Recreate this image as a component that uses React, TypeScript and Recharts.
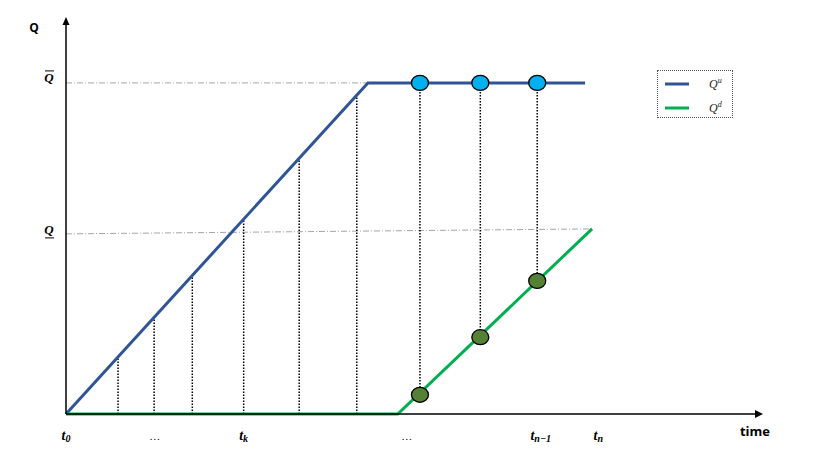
import {
  ComposedChart,
  Line,
  Scatter,
  XAxis,
  YAxis,
  ReferenceLine,
  ReferenceDot,
  Legend,
} from "recharts";

// Q^u: ramps up from t0, then stays at Q-bar
const upTimes = [0, 43.5, 74.8];
const upValues = [0, 100, 100];

// Q^d: flat at zero, then ramps up
const downTimes = [0, 47.8, 75.8];
const downValues = [0, 0, 55.9];

// dotted drops from the Q^u ramp to the time axis
const dropTimes = [7.5, 12.7, 18.2, 25.6, 33.6, 41.9];
const dropTops = [17.2, 29.2, 41.8, 58.9, 77.2, 96.3];

// markers: upstream (blue) and downstream (green)
const markTimes = [51.0, 59.7, 67.9];
const markUp = [100, 100, 100];
const markDown = [5.8, 23.2, 40.2];

// levels
const qMax = 100;
const qMinStart = 54.4;
const qMinEnd = 55.9;

// axis ticks
const tickTimes = [0, 12.8, 25.6, 49.1, 68.4, 76.7];
const tickBase = ["t", "…", "t", "…", "t", "t"];
const tickSub = ["0", "", "k", "", "n−1", "n"];
const yTicks = [qMax, 55];

const BLUE = "#2F5597";
const GREEN = "#00B050";
const GREY = "#A6A6A6";

const upData = upTimes.map((t, i) => ({ t, v: upValues[i] }));
const downData = downTimes.map((t, i) => ({ t, v: downValues[i] }));
const upMarks = markTimes.map((t, i) => ({ t, v: markUp[i] }));
const downMarks = markTimes.map((t, i) => ({ t, v: markDown[i] }));

const serif = "'Liberation Serif', 'DejaVu Serif', serif";
const sans = "'Open Sans', 'Liberation Sans', sans-serif";

const TimeTick = (props: any) => {
  const { x, y, payload } = props;
  const i = tickTimes.indexOf(payload.value);
  if (i < 0) return null;
  const base = tickBase[i];
  const sub = tickSub[i];
  if (!sub) {
    return (
      <text x={x} y={y + 18} textAnchor="middle" fontFamily={serif} fontSize={11} fill="#000">
        {base}
      </text>
    );
  }
  return (
    <text
      x={x}
      y={y + 18}
      textAnchor="middle"
      fontFamily={serif}
      fontStyle="italic"
      fontWeight="bold"
      fontSize={14}
      fill="#000"
    >
      <tspan>{base}</tspan>
      <tspan dy={2} fontSize={10}>
        {sub}
      </tspan>
    </text>
  );
};

const LevelTick = (props: any) => {
  const { x, y, payload } = props;
  const upper = payload.value === qMax;
  const cx = x - 9;
  const base = upper ? y - 1 : y + 2;
  const ruleY = upper ? base - 11 : base + 4;
  return (
    <g>
      <text
        x={cx}
        y={base}
        textAnchor="middle"
        fontFamily={serif}
        fontStyle="italic"
        fontWeight="bold"
        fontSize={13}
        fill="#000"
      >
        Q
      </text>
      <line x1={cx - 4} x2={cx + 5} y1={ruleY} y2={ruleY} stroke="#000" strokeWidth={1} />
    </g>
  );
};

const Ellipse = (fill: string) => (props: any) => (
  <ellipse cx={props.cx} cy={props.cy} rx={8.5} ry={7.5} fill={fill} stroke="#000" strokeWidth={1.3} />
);

const ArrowRight = (props: any) => (
  <path
    d={`M${props.cx + 3},${props.cy} L${props.cx - 5},${props.cy - 4} L${props.cx - 5},${props.cy + 4} Z`}
    fill="#000"
  />
);

const ArrowUp = (props: any) => (
  <path
    d={`M${props.cx},${props.cy - 3} L${props.cx - 3.5},${props.cy + 5} L${props.cx + 3.5},${props.cy + 5} Z`}
    fill="#000"
  />
);

const LegendBox = () => (
  <div
    style={{
      width: 76,
      height: 48,
      border: "1px dotted #555",
      boxSizing: "border-box",
      background: "#fff",
    }}
  >
    <svg width={74} height={46}>
      <line x1={7} y1={13} x2={31} y2={13} stroke={BLUE} strokeWidth={3} />
      <text x={51} y={17} fontFamily={serif} fontStyle="italic" fontSize={12} fill="#222">
        Q<tspan dy={-5} fontSize={8}>u</tspan>
      </text>
      <line x1={7} y1={37} x2={31} y2={37} stroke={GREEN} strokeWidth={3} />
      <text x={51} y={41} fontFamily={serif} fontStyle="italic" fontSize={12} fill="#222">
        Q<tspan dy={-5} fontSize={8}>d</tspan>
      </text>
    </svg>
  </div>
);

export default function App() {
  return (
    <div style={{ position: "absolute", left: 0, top: 0, background: "#fff" }}>
      <ComposedChart width={830} height={467} margin={{ top: 20, right: 70, bottom: 23, left: 26 }}>
        <XAxis
          type="number"
          dataKey="t"
          domain={[0, 100]}
          ticks={tickTimes}
          interval={0}
          tick={(p: any) => <TimeTick {...p} />}
          tickLine={false}
          axisLine={{ stroke: "#000", strokeWidth: 1.5 }}
          height={30}
          label={{
            content: (p: any) => (
              <text
                x={p.viewBox.x + p.viewBox.width - 5}
                y={p.viewBox.y + 22}
                textAnchor="middle"
                fontFamily={sans}
                fontWeight="bold"
                fontSize={13}
              >
                time
              </text>
            ),
          }}
        />
        <YAxis
          type="number"
          dataKey="v"
          domain={[0, 119]}
          ticks={yTicks}
          interval={0}
          tick={(p: any) => <LevelTick {...p} />}
          tickLine={false}
          axisLine={{ stroke: "#000", strokeWidth: 1.5 }}
          width={40}
          label={{
            content: (p: any) => (
              <text
                x={p.viewBox.x + 8}
                y={p.viewBox.y + 12}
                textAnchor="middle"
                fontFamily={sans}
                fontWeight="bold"
                fontSize={12}
              >
                Q
              </text>
            ),
          }}
        />
        <ReferenceLine
          segment={[
            { x: 0, y: qMax },
            { x: upTimes[1], y: qMax },
          ]}
          stroke={GREY}
          strokeDasharray="6 2 1 2"
        />
        <ReferenceLine
          segment={[
            { x: 0, y: qMinStart },
            { x: downTimes[2], y: qMinEnd },
          ]}
          stroke={GREY}
          strokeDasharray="6 2 1 2"
        />
        {dropTimes.map((t, i) => (
          <ReferenceLine
            key={"d" + i}
            segment={[
              { x: t, y: 0 },
              { x: t, y: dropTops[i] },
            ]}
            stroke="#000"
            strokeWidth={1.5}
            strokeDasharray="1.5 1.5"
          />
        ))}
        {markTimes.map((t, i) => (
          <ReferenceLine
            key={"m" + i}
            segment={[
              { x: t, y: markUp[i] },
              { x: t, y: markDown[i] },
            ]}
            stroke="#000"
            strokeWidth={1.5}
            strokeDasharray="1.5 1.5"
          />
        ))}
        <Line
          data={upData}
          dataKey="v"
          type="linear"
          stroke={BLUE}
          strokeWidth={3}
          dot={false}
          activeDot={false}
          isAnimationActive={false}
        />
        <Line
          data={downData}
          dataKey="v"
          type="linear"
          stroke={GREEN}
          strokeWidth={3}
          dot={false}
          activeDot={false}
          isAnimationActive={false}
        />
        <Scatter data={upMarks} dataKey="v" shape={Ellipse("#00B0F0")} isAnimationActive={false} />
        <Scatter data={downMarks} dataKey="v" shape={Ellipse("#548235")} isAnimationActive={false} />
        <ReferenceDot x={100} y={0} shape={ArrowRight} ifOverflow="visible" />
        <ReferenceDot x={0} y={119} shape={ArrowUp} ifOverflow="visible" />
        <Legend
          layout="vertical"
          align="center"
          verticalAlign="middle"
          wrapperStyle={{ left: 657, top: 70, width: 78 }}
          content={() => <LegendBox />}
        />
      </ComposedChart>
    </div>
  );
}
